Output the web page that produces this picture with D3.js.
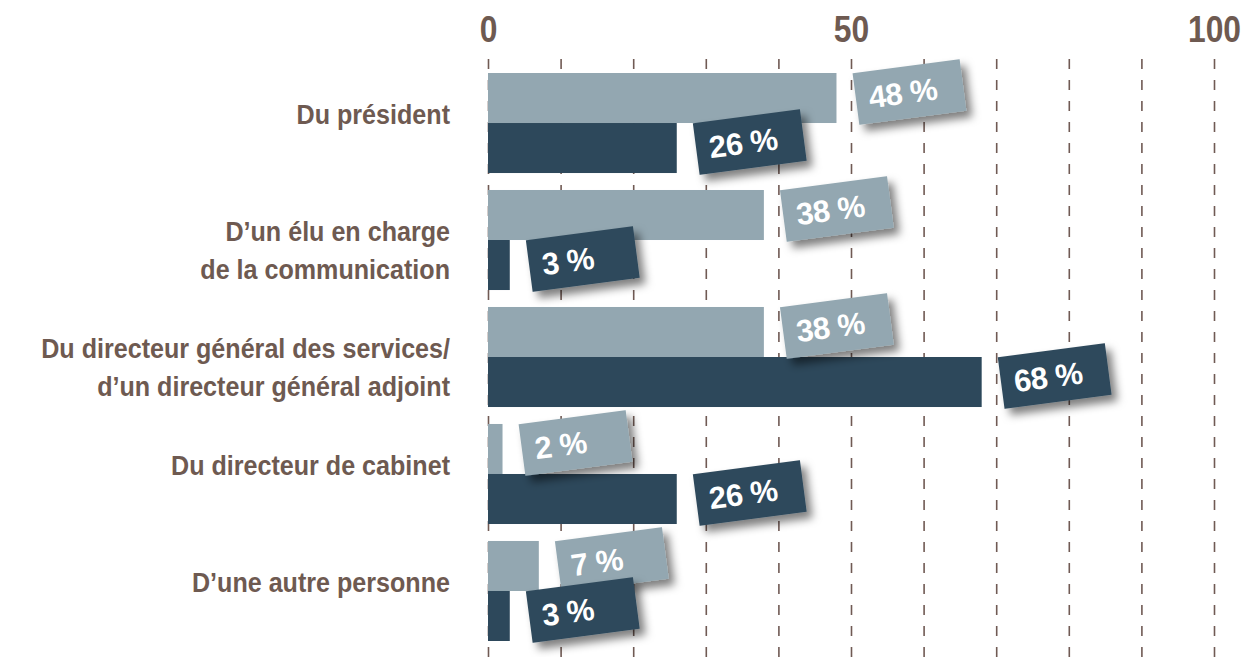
<!DOCTYPE html>
<html>
<head>
<meta charset="utf-8">
<script src="https://cdn.jsdelivr.net/npm/d3@7"></script>
<style>
  html, body { margin: 0; padding: 0; background: #fff; }
  svg { display: block; }
</style>
</head>
<body>
<div id="chart"></div>
<script>
// categories (each entry = lines of the label)
const categories = [
    ["Du président"],
    ["D\u2019un élu en charge", "de la communication"],
    ["Du directeur général des services/", "d\u2019un directeur général adjoint"],
    ["Du directeur de cabinet"],
    ["D\u2019une autre personne"]
];
const seriesNames = ["light", "dark"];
const lightValues = [48, 38, 38, 2, 7];
const darkValues = [26, 3, 68, 26, 3];
const tickLabels = [0, 50, 100];
const gridTicks = [0, 10, 20, 30, 40, 50, 60, 70, 80, 90, 100];

const W = 1242, H = 657;
const colors = {
    light: "#93a7b1",
    dark: "#2d485b",
    text: "#6e5a51",
    grid: "#705a54"
};
// no condensed face installed, so squeeze Liberation Sans horizontally
const font = "'Liberation Sans', Arial, sans-serif";
const squeeze = 0.93;

const rows = categories.map((c, i) => ({
    key: i, lines: c, light: lightValues[i], dark: darkValues[i]
}));

const svg = d3.select("#chart").append("svg")
    .attr("viewBox", [0, 0, W, H])
    .attr("width", W)
    .attr("height", H);

const defs = svg.append("defs");
const shadow = defs.append("filter")
    .attr("id", "shadow")
    .attr("x", "-20%").attr("y", "-30%")
    .attr("width", "150%").attr("height", "180%");
shadow.append("feDropShadow")
    .attr("dx", 5).attr("dy", 7)
    .attr("stdDeviation", 4)
    .attr("flood-color", "#000")
    .attr("flood-opacity", 0.5);

const x = d3.scaleLinear().domain([0, 100]).range([488, 1214]);
const y = d3.scaleBand().domain(rows.map(d => d.key)).range([73, 641])
    .paddingInner(0.145).paddingOuter(0);
const ySub = d3.scaleBand().domain(seriesNames).range([0, y.bandwidth()]);

// dashed grid
const grid = svg.append("g")
    .attr("transform", `translate(0,${H})`)
    .call(d3.axisBottom(x).tickValues(gridTicks).tickSize(-(H - 57)).tickFormat(""));
grid.select(".domain").remove();
grid.selectAll(".tick line")
    .attr("stroke", colors.grid)
    .attr("stroke-width", 1.6)
    .attr("stroke-dasharray", "10,11");

// top tick labels
const axis = svg.append("g")
    .attr("transform", "translate(0,42)")
    .call(d3.axisTop(x).tickValues(tickLabels).tickSize(0).tickPadding(0));
axis.select(".domain").remove();
axis.selectAll("text")
    .attr("fill", colors.text)
    .attr("font-family", font)
    .attr("font-weight", "bold")
    .attr("font-size", 37)
    .attr("transform", "scale(0.86,1)");

// category labels
const labels = svg.append("g").selectAll("text")
    .data(rows)
    .join("text")
    .attr("text-anchor", "end")
    .attr("fill", colors.text)
    .attr("font-family", font)
    .attr("font-weight", "bold")
    .attr("font-size", 27)
    .attr("transform", d => `translate(450,${y(d.key) + y.bandwidth() / 2 + 1}) scale(${squeeze},1)`);
labels.selectAll("tspan")
    .data(d => d.lines)
    .join("tspan")
    .attr("x", 0)
    .attr("y", (l, i) => i * 38)
    .text(l => l);

// bars
const groups = svg.append("g").selectAll("g")
    .data(rows)
    .join("g")
    .attr("transform", d => `translate(0,${y(d.key)})`);

groups.selectAll("rect")
    .data(d => seriesNames.map(s => ({ s, v: d[s] })))
    .join("rect")
    .attr("x", x(0))
    .attr("y", d => ySub(d.s))
    .attr("width", d => x(d.v) - x(0))
    .attr("height", ySub.bandwidth())
    .attr("fill", d => colors[d.s]);

// tilted value tags
const tags = groups.selectAll("g.tag")
    .data(d => seriesNames.map(s => ({ s, v: d[s] })))
    .join("g")
    .attr("class", "tag")
    .attr("transform", d => `translate(${x(d.v) + 73},${ySub(d.s) + ySub.bandwidth() / 2 - 6}) rotate(-7.5)`);

tags.append("rect")
    .attr("x", -54)
    .attr("y", -26)
    .attr("width", 108)
    .attr("height", 52)
    .attr("fill", d => colors[d.s])
    .attr("filter", "url(#shadow)");

tags.append("text")
    .attr("x", -41)
    .attr("y", 11)
    .attr("fill", "#fff")
    .attr("font-family", font)
    .attr("font-weight", "bold")
    .attr("font-size", 31)
    .attr("letter-spacing", -0.5)
    .text(d => `${d.v} %`);
</script>
</body>
</html>
